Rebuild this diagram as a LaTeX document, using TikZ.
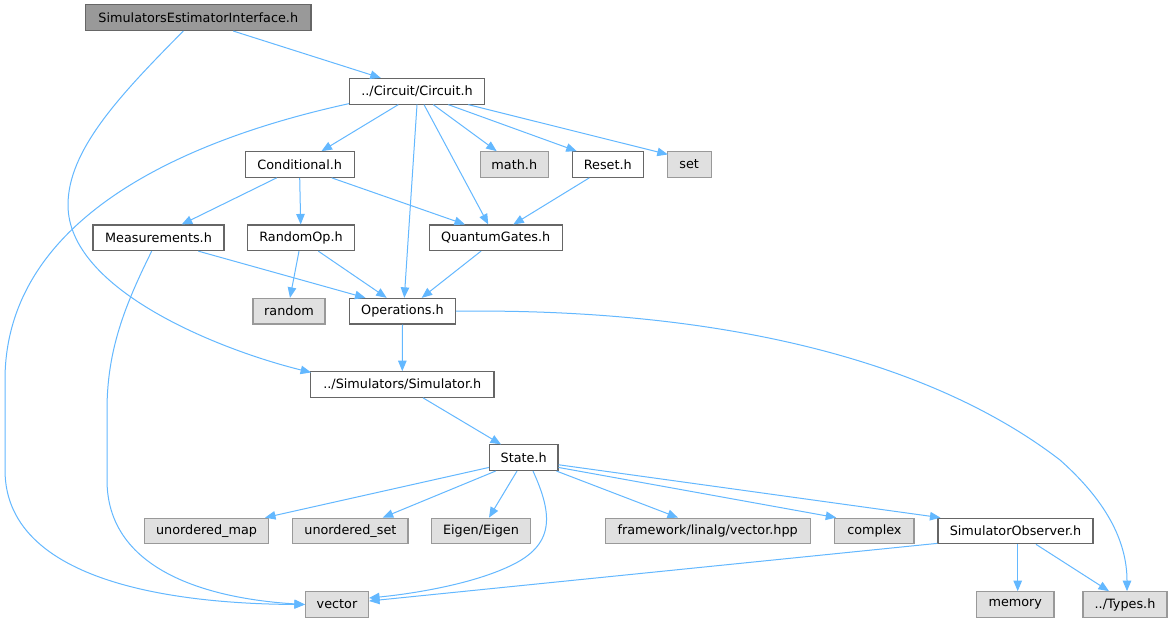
\documentclass[tikz,border=0pt]{standalone}
\usepackage{fontspec}
\setmainfont{DejaVu Sans}
\usetikzlibrary{arrows.meta}
\definecolor{edgeblue}{HTML}{63B8FF}
\definecolor{nodedraw}{HTML}{666666}
\definecolor{sysfill}{HTML}{E0E0E0}
\definecolor{sysdraw}{HTML}{999999}
\definecolor{rootfill}{HTML}{999999}
\tikzset{
  box/.style={draw=nodedraw, line width=1.1pt, fill=white, inner sep=0pt,
    minimum height=25.6pt, font=\fontsize{12.8}{15}\selectfont, text=black},
  sys/.style={box, fill=sysfill, draw=sysdraw},
  root/.style={box, fill=rootfill, draw=nodedraw},
  link/.style={draw=edgeblue, line width=1pt, -{Triangle[length=10.5pt,width=8.5pt]}}
}
\begin{document}
\begin{tikzpicture}[x=1pt,y=-1pt]
\useasboundingbox[fill=white] (0,0) rectangle (1172,623);
% nodes
\node[root, minimum width=225.3pt] (sei) at (198.3,17.7) {SimulatorsEstimatorInterface.h};
\node[box, minimum width=135pt] (circ) at (417,91.3) {../Circuit/Circuit.h};
\node[box, minimum width=108.7pt] (cond) at (299.7,164.5) {Conditional.h};
\node[sys, minimum width=68pt] (math) at (514.3,164.5) {math.h};
\node[box, minimum width=71pt] (reset) at (607.8,164.5) {Reset.h};
\node[sys, minimum width=43.7pt] (set) at (689.2,164.5) {set};
\node[box, minimum width=131pt] (meas) at (158.5,237.8) {Measurements.h};
\node[box, minimum width=106.8pt] (rop) at (301,237.8) {RandomOp.h};
\node[box, minimum width=132.7pt] (qg) at (495.7,237.8) {QuantumGates.h};
\node[sys, minimum width=72pt] (random) at (289,311.2) {random};
\node[box, minimum width=105.6pt] (ops) at (402.5,311.2) {Operations.h};
\node[box, minimum width=183.3pt] (sim) at (402.3,384.5) {../Simulators/Simulator.h};
\node[box, minimum width=68.5pt] (state) at (523.7,457.7) {State.h};
\node[sys, minimum width=124.4pt] (umap) at (206.5,531) {unordered\_map};
\node[sys, minimum width=115.2pt] (uset) at (350.4,531) {unordered\_set};
\node[sys, minimum width=99.5pt] (eigen) at (481,531) {Eigen/Eigen};
\node[sys, minimum width=205.3pt] (fw) at (707.7,531) {framework/linalg/vector.hpp};
\node[sys, minimum width=79.2pt] (complex) at (874.4,531) {complex};
\node[box, minimum width=155pt] (sobs) at (1015.5,531) {SimulatorObserver.h};
\node[sys, minimum width=63pt] (vector) at (337,604.5) {vector};
\node[sys, minimum width=77.3pt] (memory) at (1015.3,604.5) {memory};
\node[sys, minimum width=84pt] (types) at (1125,604.5) {../Types.h};
% edges
\draw[link] ([xshift=35pt]sei.south) -- ([xshift=-36.2pt]circ.north);
\draw[link] ([xshift=-15pt]sei.south) .. controls (120,95) and (68,150) .. (68,205)
  .. controls (68,290) and (220,350) .. ([xshift=1pt,yshift=-1.3pt]sim.north west);
\draw[link] ([yshift=1pt]circ.south west) .. controls (160,145) and (5,230) .. (5,380)
  -- (5,470) .. controls (5,590) and (200,604) .. (vector.west);
\draw[link] ([xshift=-18.7pt]circ.south) -- ([xshift=21.8pt]cond.north);
\draw[link] (circ.south) -- ([xshift=1.8pt]ops.north);
\draw[link] ([xshift=7pt]circ.south) -- ([xshift=-7.4pt]qg.north);
\draw[link] ([xshift=16.3pt]circ.south) -- ([xshift=-17.6pt]math.north);
\draw[link] ([xshift=31.3pt]circ.south) -- ([xshift=-31.1pt]reset.north);
\draw[link] ([xshift=51.3pt]circ.south) -- ([xshift=1pt,yshift=-3.3pt]set.north west);
\draw[link] ([xshift=-23pt]cond.south) -- ([xshift=23.2pt]meas.north);
\draw[link] (cond.south) -- ([xshift=-0.3pt]rop.north);
\draw[link] ([xshift=32pt]cond.south) -- ([xshift=-30.7pt]qg.north);
\draw[link] ([xshift=-18.5pt]reset.south) -- ([xshift=17.6pt]qg.north);
\draw[link] ([xshift=39.8pt]meas.south) -- ([xshift=-37pt]ops.north);
\draw[link] ([xshift=-6.8pt]meas.south) .. controls (125,305) and (107,350) .. (107,410)
  -- (107,480) .. controls (107,580) and (230,600) .. (vector.west);
\draw[link] ([xshift=-2pt]rop.south) -- ([xshift=1pt]random.north);
\draw[link] ([xshift=17.3pt]rop.south) -- ([xshift=-15.8pt]ops.north);
\draw[link] ([xshift=-14.7pt]qg.south) -- ([xshift=19.2pt]ops.north);
\draw[link] (ops.south) -- (sim.north);
\draw[link] (ops.east) .. controls (720,308) and (930,360) .. (1060,460)
  .. controls (1105,500) and (1127,540) .. ([xshift=2pt]types.north);
\draw[link] ([xshift=20.7pt]sim.south) -- ([xshift=-22.7pt]state.north);
\draw[link] ([yshift=3.6pt]state.south west) -- ([xshift=58.5pt]umap.north);
\draw[link] ([xshift=-28.1pt]state.south) -- ([xshift=32.3pt]uset.north);
\draw[link] ([xshift=-6.7pt]state.south) -- ([xshift=8pt]eigen.north);
\draw[link] ([xshift=9.3pt]state.south) .. controls (553,515) and (555,545) .. (510,566)
  .. controls (470,585) and (410,594) .. ([yshift=6.5pt]vector.east);
\draw[link] ([xshift=-2pt]state.south east) -- ([xshift=-29.7pt]fw.north);
\draw[link] ([yshift=3.6pt]state.south east) -- ([xshift=2pt]complex.north west);
\draw[link] ([yshift=6.3pt]state.south east) -- ([xshift=3pt]sobs.north west);
\draw[link] ([yshift=1pt]sobs.south west) -- ([yshift=3.5pt]vector.east);
\draw[link] ([xshift=2.2pt]sobs.south) -- ([xshift=2.4pt]memory.north);
\draw[link] ([xshift=20.5pt]sobs.south) -- ([xshift=-16pt]types.north);
\end{tikzpicture}
\end{document}
